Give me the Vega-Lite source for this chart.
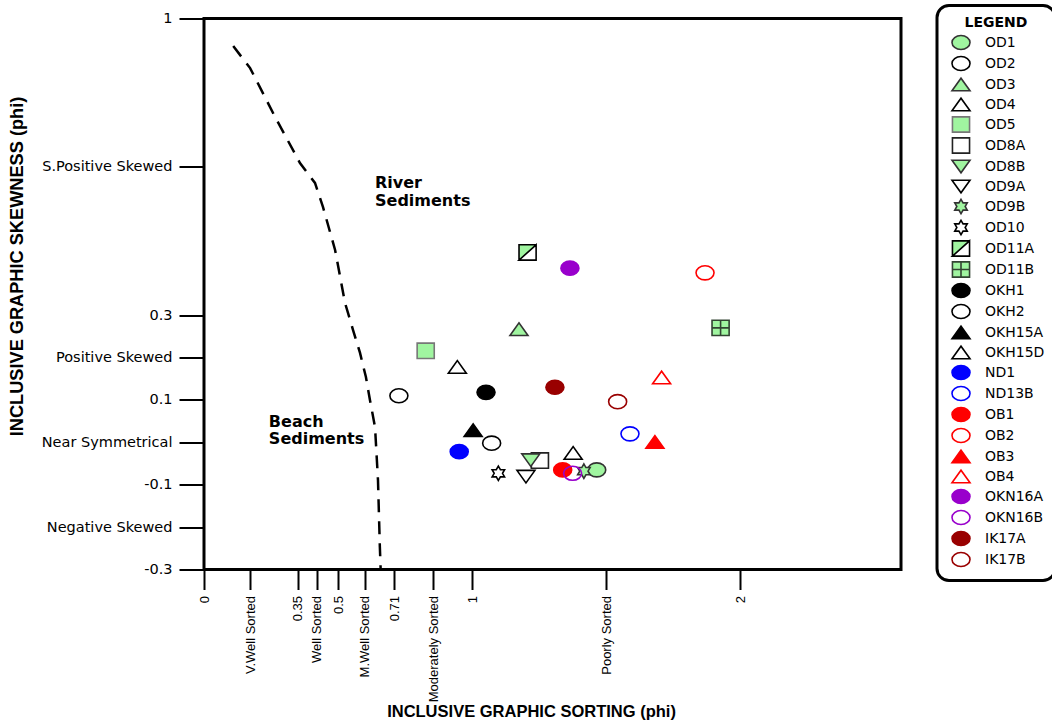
{
  "$schema": "https://vega.github.io/schema/vega-lite/v6.json",
  "autosize": {"type": "none"},
  "padding": {"left": 204, "top": 18.5, "right": 151, "bottom": 156.5},
  "width": 697,
  "height": 551,
  "background": "white",
  "config": {
    "view": {"stroke": "black", "strokeWidth": 3},
    "axis": {"grid": false, "domain": false, "tickColor": "black", "tickWidth": 2, "labelColor": "black", "titleColor": "black"},
    "legend": {"strokeWidth": 3}
  },
  "datasets": {
    "curve": [
      {"x": 0.109, "y": 0.935},
      {"x": 0.172, "y": 0.883},
      {"x": 0.265, "y": 0.768},
      {"x": 0.358, "y": 0.659},
      {"x": 0.414, "y": 0.612},
      {"x": 0.444, "y": 0.555},
      {"x": 0.489, "y": 0.454},
      {"x": 0.526, "y": 0.329},
      {"x": 0.556, "y": 0.265},
      {"x": 0.582, "y": 0.211},
      {"x": 0.604, "y": 0.154},
      {"x": 0.619, "y": 0.100},
      {"x": 0.638, "y": 0.036},
      {"x": 0.649, "y": -0.089},
      {"x": 0.656, "y": -0.247},
      {"x": 0.659, "y": -0.3}
    ],
    "samples": [
      {"name": "OD1", "x": 1.465, "y": -0.065},
      {"name": "OD2", "x": 0.727, "y": 0.110},
      {"name": "OD3", "x": 1.175, "y": 0.267},
      {"name": "OD4", "x": 1.377, "y": -0.025},
      {"name": "OD5", "x": 0.827, "y": 0.216},
      {"name": "OD8A", "x": 1.253, "y": -0.043},
      {"name": "OD8B", "x": 1.219, "y": -0.042},
      {"name": "OD9A", "x": 1.201, "y": -0.081},
      {"name": "OD9B", "x": 1.417, "y": -0.068},
      {"name": "OD10", "x": 1.098, "y": -0.073},
      {"name": "OD11A", "x": 1.207, "y": 0.448},
      {"name": "OD11B", "x": 1.927, "y": 0.270},
      {"name": "OKH1", "x": 1.052, "y": 0.118},
      {"name": "OKH2", "x": 1.073, "y": -0.002},
      {"name": "OKH15A", "x": 1.004, "y": 0.029},
      {"name": "OKH15D", "x": 0.945, "y": 0.178},
      {"name": "ND1", "x": 0.952, "y": -0.022},
      {"name": "ND13B", "x": 1.589, "y": 0.020},
      {"name": "OB1", "x": 1.338, "y": -0.065},
      {"name": "OB2", "x": 1.869, "y": 0.400},
      {"name": "OB3", "x": 1.682, "y": 0.001},
      {"name": "OB4", "x": 1.707, "y": 0.153},
      {"name": "OKN16A", "x": 1.365, "y": 0.411},
      {"name": "OKN16B", "x": 1.375, "y": -0.073},
      {"name": "IK17A", "x": 1.309, "y": 0.130},
      {"name": "IK17B", "x": 1.543, "y": 0.096}
    ],
    "notes": [
      {"label": "River", "x": 0.638, "y": 0.612},
      {"label": "Sediments", "x": 0.638, "y": 0.569},
      {"label": "Beach", "x": 0.242, "y": 0.047},
      {"label": "Sediments", "x": 0.242, "y": 0.007}
    ]
  },
  "encoding": {
    "x": {
      "field": "x", "type": "quantitative",
      "scale": {"domain": [0, 2.6], "nice": false, "zero": false},
      "axis": {
        "values": [0, 0.172, 0.35, 0.42, 0.5, 0.6, 0.71, 0.855, 1, 1.5, 2],
        "labelExpr": "datum.value < 0.1 ? '0' : datum.value < 0.3 ? 'V.Well Sorted' : datum.value < 0.4 ? '0.35' : datum.value < 0.45 ? 'Well Sorted' : datum.value < 0.55 ? '0.5' : datum.value < 0.65 ? 'M.Well Sorted' : datum.value < 0.8 ? '0.71' : datum.value < 0.9 ? 'Moderately Sorted' : datum.value < 1.2 ? '1' : datum.value < 1.8 ? 'Poorly Sorted' : '2'",
        "labelAngle": -90,
        "labelFont": "Liberation Sans",
        "labelFontSize": 13,
        "labelPadding": 6,
        "tickSize": 20,
        "labelFlush": false,
        "labelOverlap": false,
        "title": "INCLUSIVE GRAPHIC SORTING (phi)",
        "titleFont": "Liberation Sans",
        "titleFontSize": 16.5,
        "titleFontWeight": "bold",
        "titleX": 327,
        "titleY": 147,
        "titleBaseline": "alphabetic"
      }
    },
    "y": {
      "field": "y", "type": "quantitative",
      "scale": {"domain": [-0.3, 1], "nice": false, "zero": false},
      "axis": {
        "values": [-0.3, -0.2, -0.1, 0, 0.1, 0.2, 0.3, 0.65, 1],
        "labelExpr": "datum.value > 0.9 ? '1' : datum.value > 0.6 ? 'S.Positive Skewed' : datum.value > 0.25 ? '0.3' : datum.value > 0.15 ? 'Positive Skewed' : datum.value > 0.05 ? '0.1' : datum.value > -0.05 ? 'Near Symmetrical' : datum.value > -0.15 ? '-0.1' : datum.value > -0.25 ? 'Negative Skewed' : '-0.3'",
        "labelFont": "DejaVu Sans",
        "labelFontSize": 14.5,
        "labelPadding": 7,
        "tickSize": 25,
        "labelFlush": false,
        "labelOverlap": false,
        "title": "INCLUSIVE GRAPHIC SKEWNESS (phi)",
        "titleFont": "Liberation Sans",
        "titleFontSize": 18.2,
        "titleFontWeight": "bold",
        "titleX": -182,
        "titleY": 247.5,
        "titleBaseline": "alphabetic"
      }
    }
  },
  "layer": [
    {
      "data": {"name": "curve"},
      "mark": {"type": "line", "color": "black", "strokeWidth": 2.5, "strokeDash": [13, 9]},
      "encoding": {}
    },
    {
      "data": {"name": "samples"},
      "mark": {"type": "point", "filled": true, "size": 324, "strokeWidth": 1.6, "opacity": 1},
      "encoding": {
        "shape": {
          "field": "name", "type": "nominal", "title": "LEGEND",
          "scale": {
            "domain": ["OD1","OD2","OD3","OD4","OD5","OD8A","OD8B","OD9A","OD9B","OD10","OD11A","OD11B","OKH1","OKH2","OKH15A","OKH15D","ND1","ND13B","OB1","OB2","OB3","OB4","OKN16A","OKN16B","IK17A","IK17B"],
            "range": [
              "M-1,0A1,0.78,0,1,1,1,0A1,0.78,0,1,1,-1,0Z",
              "M-1,0A1,0.78,0,1,1,1,0A1,0.78,0,1,1,-1,0Z",
              "M-1,0.7L1,0.7L0,-0.7Z",
              "M-1,0.7L1,0.7L0,-0.7Z",
              "M-0.95,-0.85H0.95V0.85H-0.95Z",
              "M-0.95,-0.85H0.95V0.85H-0.95Z",
              "M-1,-0.7L1,-0.7L0,0.7Z",
              "M-1,-0.7L1,-0.7L0,0.7Z",
              "M0,-0.8L0.231,-0.4L0.693,-0.4L0.462,0L0.693,0.4L0.231,0.4L0,0.8L-0.231,0.4L-0.693,0.4L-0.462,0L-0.693,-0.4L-0.231,-0.4Z",
              "M0,-0.8L0.231,-0.4L0.693,-0.4L0.462,0L0.693,0.4L0.231,0.4L0,0.8L-0.231,0.4L-0.693,0.4L-0.462,0L-0.693,-0.4L-0.231,-0.4Z",
              "M-0.95,-0.85L0.95,-0.85L0.95,0.85L-0.95,0.85ZM-0.95,0.85L0.95,0.85L0.95,-0.85Z",
              "M-0.95,-0.85H0.95V0.85H-0.95ZM0,-0.85V0.85M-0.95,0H0.95",
              "M-1,0A1,0.78,0,1,1,1,0A1,0.78,0,1,1,-1,0Z",
              "M-1,0A1,0.78,0,1,1,1,0A1,0.78,0,1,1,-1,0Z",
              "M-1,0.7L1,0.7L0,-0.7Z",
              "M-1,0.7L1,0.7L0,-0.7Z",
              "M-1,0A1,0.78,0,1,1,1,0A1,0.78,0,1,1,-1,0Z",
              "M-1,0A1,0.78,0,1,1,1,0A1,0.78,0,1,1,-1,0Z",
              "M-1,0A1,0.78,0,1,1,1,0A1,0.78,0,1,1,-1,0Z",
              "M-1,0A1,0.78,0,1,1,1,0A1,0.78,0,1,1,-1,0Z",
              "M-1,0.7L1,0.7L0,-0.7Z",
              "M-1,0.7L1,0.7L0,-0.7Z",
              "M-1,0A1,0.78,0,1,1,1,0A1,0.78,0,1,1,-1,0Z",
              "M-1,0A1,0.78,0,1,1,1,0A1,0.78,0,1,1,-1,0Z",
              "M-1,0A1,0.78,0,1,1,1,0A1,0.78,0,1,1,-1,0Z",
              "M-1,0A1,0.78,0,1,1,1,0A1,0.78,0,1,1,-1,0Z"
            ]
          },
          "legend": {
            "orient": "none",
            "legendX": 733,
            "legendY": -13,
            "padding": 10,
            "strokeColor": "black",
            "fillColor": "white",
            "cornerRadius": 12,
            "title": "LEGEND",
            "titleAnchor": "middle",
            "titleFont": "DejaVu Sans",
            "titleFontSize": 14,
            "titleFontWeight": "bold",
            "titleColor": "black",
            "titlePadding": 3,
            "labelFont": "DejaVu Sans",
            "labelFontSize": 14,
            "labelColor": "black",
            "labelLimit": 200,
            "symbolSize": 324,
            "symbolStrokeWidth": 1.6,
            "symbolOffset": 4,
            "labelOffset": 14,
            "rowPadding": -1,
            "symbolLimit": 0
          }
        },
        "fill": {
          "field": "name", "type": "nominal", "title": "LEGEND",
          "scale": {
            "domain": ["OD1","OD2","OD3","OD4","OD5","OD8A","OD8B","OD9A","OD9B","OD10","OD11A","OD11B","OKH1","OKH2","OKH15A","OKH15D","ND1","ND13B","OB1","OB2","OB3","OB4","OKN16A","OKN16B","IK17A","IK17B"],
            "range": ["#a0f5a0","transparent","#a0f5a0","transparent","#a0f5a0","transparent","#a0f5a0","transparent","#a0f5a0","transparent","#a0f5a0","#a0f5a0","#000000","transparent","#000000","transparent","#0000ff","transparent","#ff0000","transparent","#ff0000","transparent","#9900cc","transparent","#990000","transparent"]
          }
        },
        "stroke": {
          "field": "name", "type": "nominal", "title": "LEGEND",
          "scale": {
            "domain": ["OD1","OD2","OD3","OD4","OD5","OD8A","OD8B","OD9A","OD9B","OD10","OD11A","OD11B","OKH1","OKH2","OKH15A","OKH15D","ND1","ND13B","OB1","OB2","OB3","OB4","OKN16A","OKN16B","IK17A","IK17B"],
            "range": ["#333333","#000000","#333333","#000000","#777777","#222222","#333333","#000000","#333333","#000000","#000000","#334433","#000000","#000000","#000000","#000000","#0000ff","#0000ff","#ff0000","#ff0000","#ff0000","#ff0000","#9900cc","#9900cc","#990000","#990000"]
          }
        }
      }
    },
    {
      "data": {"name": "notes"},
      "mark": {"type": "text", "align": "left", "baseline": "middle", "font": "DejaVu Sans", "fontSize": 16, "fontWeight": "bold", "color": "black"},
      "encoding": {"text": {"field": "label", "type": "nominal"}}
    }
  ]
}
